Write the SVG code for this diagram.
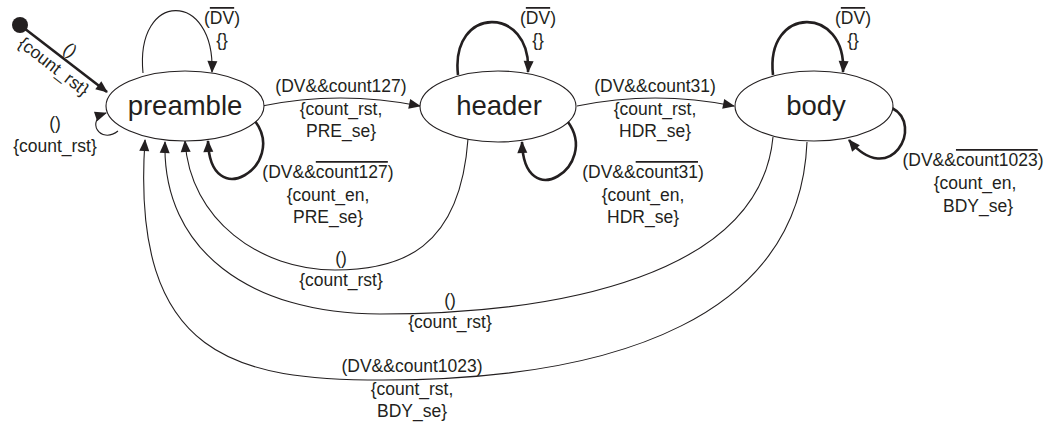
<svg xmlns="http://www.w3.org/2000/svg" width="1047" height="423" viewBox="0 0 1047 423">
  <style>
    .st { fill: #ffffff; stroke: #231f20; stroke-width: 1.1; }
    .nl { font-family: "Liberation Sans", Arial, sans-serif; font-size: 27.5px; fill: #231f20; text-anchor: middle; }
    .el { font-family: "Liberation Sans", Arial, sans-serif; font-size: 17.5px; fill: #231f20; text-anchor: middle; }
    .ov { text-decoration: overline; }
    .thin { fill: none; stroke: #231f20; stroke-width: 1.1; marker-end: url(#ah); }
    .thick { fill: none; stroke: #231f20; stroke-width: 2.6; marker-end: url(#ah); }
  </style>
  <defs>
    <marker id="ah" markerUnits="userSpaceOnUse" markerWidth="12" markerHeight="10" refX="11" refY="5" orient="auto" overflow="visible">
      <path d="M0,0 L12,5 L0,10 z" fill="#231f20"/>
    </marker>
  </defs>
  <rect width="1047" height="423" fill="#ffffff"/>

  <g id="connectors">
    <!-- initial -->
    <path class="thick" d="M20,25 L107,92"/>
    <!-- preamble self loops -->
    <path class="thin" d="M143,73 C135,-10 215,-10 212,72"/>
    <path class="thin" d="M118,131 C100,145 85,120 106,113"/>
    <path class="thick" d="M255,121 C288,165 210,215 208,141"/>
    <!-- preamble -> header -->
    <path class="thin" d="M262,106 Q340,90 420,106"/>
    <!-- header self loops -->
    <path class="thick" d="M458,75 C450,5 532,5 528,72"/>
    <path class="thick" d="M568,122 C600,166 524,216 522,142"/>
    <!-- header -> body -->
    <path class="thin" d="M577,106 Q655,90 734,106"/>
    <!-- body self loops -->
    <path class="thick" d="M773,75 C765,5 847,5 843,72"/>
    <path class="thick" d="M892,108 C925,125 890,190 849,140"/>
    <!-- header -> preamble -->
    <path class="thin" d="M468,139 C460,250 400,270 335,270 C260,270 190,220 185,141"/>
    <!-- body -> preamble () -->
    <path class="thin" d="M773,137 C760,275 560,314 380,314 C250,314 162,250 165,142"/>
    <!-- body -> preamble (DV&&count1023) -->
    <path class="thin" d="M807,142 C800,315 620,380 383,380 C240,380 130,360 145,140"/>
  </g>

  <g id="initial">
    <circle cx="20" cy="25" r="8" fill="#231f20"/>
  </g>
  <g id="preamble">
    <ellipse class="st" cx="185" cy="106" rx="79" ry="35"/>
    <text class="nl" x="185" y="115">preamble</text>
  </g>
  <g id="header">
    <ellipse class="st" cx="498" cy="106.5" rx="78" ry="35.5"/>
    <text class="nl" x="499" y="115">header</text>
  </g>
  <g id="body">
    <ellipse class="st" cx="814" cy="106" rx="79" ry="35"/>
    <text class="nl" x="816" y="115">body</text>
  </g>

  <g id="edge-labels">
    <g transform="translate(20,25) rotate(37.6)">
      <text class="el" x="55" y="-5">()</text>
      <text class="el" x="52" y="18">{count_rst}</text>
    </g>
    <text class="el" x="55" y="129">()</text>
    <text class="el" x="55" y="152">{count_rst}</text>

    <text class="el" x="222" y="24">(<tspan class="ov">DV</tspan>)</text>
    <text class="el" x="222" y="46">{}</text>
    <text class="el" x="538" y="24">(<tspan class="ov">DV</tspan>)</text>
    <text class="el" x="538" y="46">{}</text>
    <text class="el" x="853" y="24">(<tspan class="ov">DV</tspan>)</text>
    <text class="el" x="853" y="46">{}</text>

    <text class="el" x="341" y="92">(DV&amp;&amp;count127)</text>
    <text class="el" x="341" y="114.5">{count_rst,</text>
    <text class="el" x="341" y="137">PRE_se}</text>

    <text class="el" x="655" y="92">(DV&amp;&amp;count31)</text>
    <text class="el" x="655" y="114.5">{count_rst,</text>
    <text class="el" x="655" y="137">HDR_se}</text>

    <text class="el" x="328" y="178">(DV&amp;&amp;<tspan class="ov">count127</tspan>)</text>
    <text class="el" x="328" y="200.5">{count_en,</text>
    <text class="el" x="328" y="223">PRE_se}</text>

    <text class="el" x="643" y="178">(DV&amp;&amp;<tspan class="ov">count31</tspan>)</text>
    <text class="el" x="643" y="200.5">{count_en,</text>
    <text class="el" x="643" y="223">HDR_se}</text>

    <text class="el" x="973" y="166">(DV&amp;&amp;<tspan class="ov">count1023</tspan>)</text>
    <text class="el" x="975" y="189">{count_en,</text>
    <text class="el" x="978" y="212">BDY_se}</text>

    <text class="el" x="341" y="264">()</text>
    <text class="el" x="341" y="286">{count_rst}</text>

    <text class="el" x="450" y="306">()</text>
    <text class="el" x="450" y="328">{count_rst}</text>

    <text class="el" x="412" y="372">(DV&amp;&amp;count1023)</text>
    <text class="el" x="412" y="395">{count_rst,</text>
    <text class="el" x="412" y="417">BDY_se}</text>
  </g>
</svg>
